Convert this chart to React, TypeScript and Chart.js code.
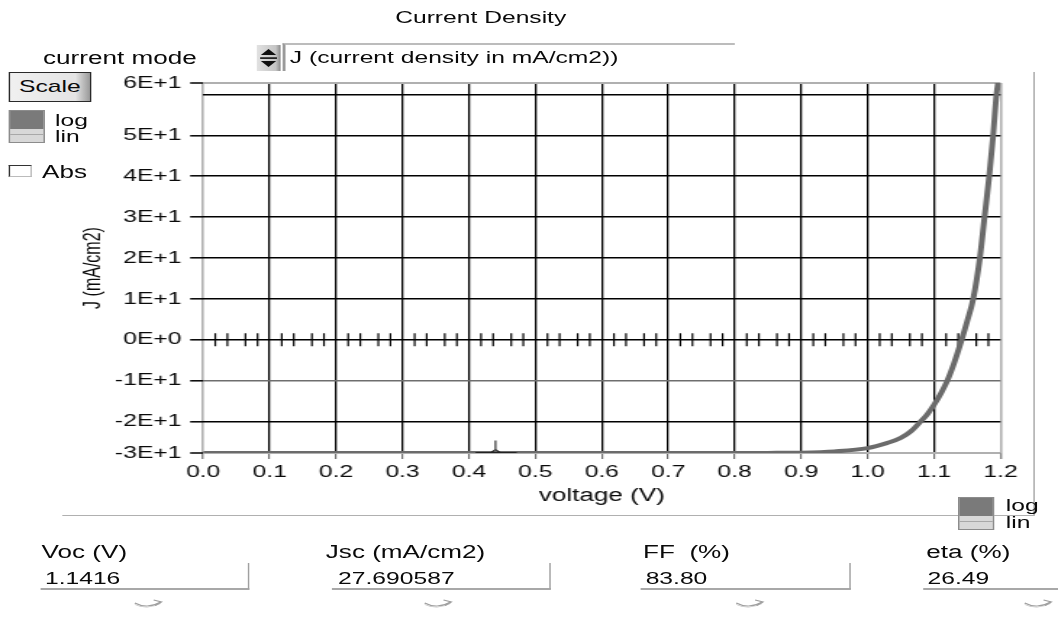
import React, { useEffect, useRef } from 'react';
import { Chart, registerables } from 'chart.js';

Chart.register(...registerables);

// ---- data ----
const voltage = [0, 0.1, 0.2, 0.3, 0.4, 0.5, 0.6, 0.7, 0.8, 0.85, 0.9, 0.95, 1.0, 1.03, 1.05, 1.065, 1.078, 1.09, 1.1, 1.11, 1.12, 1.13, 1.1416, 1.15, 1.159, 1.169, 1.176, 1.183, 1.189, 1.194, 1.2];
const currentDensity = [-27.69, -27.69, -27.69, -27.69, -27.69, -27.69, -27.69, -27.69, -27.68, -27.66, -27.6, -27.3, -26.5, -25.2, -24.0, -22.4, -20.3, -18.2, -15.9, -13.2, -10.0, -5.8, 0, 4.6, 10, 20, 30, 40, 50, 60, 66];
const xTickValues = [0, 0.1, 0.2, 0.3, 0.4, 0.5, 0.6, 0.7, 0.8, 0.9, 1.0, 1.1, 1.2];
const yMin = -27.69;
const yMax = 62.8;
const yTickValues = [yMin, -20, -10, 0, 10, 20, 30, 40, 50, 60, yMax];
const yUnlabeled = [60];
const minorOffsets = [0.0182, 0.0364, 0.0636, 0.0818];
const cursorVoltage = 0.44;
const cursorSpan = [0.41, 0.472];
const resultLabels = ['Voc (V)', 'Jsc (mA/cm2)', 'FF  (%)', 'eta (%)'];
const resultValues = ['1.1416', '27.690587', '83.80', '26.49'];

// ---- layout (unstretched coordinates; page is stretched horizontally) ----
const CW = 730;
const S = 1058 / CW;
const FONT = "'Liberation Sans', Arial, sans-serif";
const TXT = '#0a0a0a';

const overlayPlugin = {
  id: 'overlay',
  beforeDatasetsDraw(chart: any) {
    const { ctx, scales } = chart;
    const x = scales.x;
    const y = scales.y;
    const y0 = y.getPixelForValue(0);
    ctx.save();
    ctx.strokeStyle = '#000';
    ctx.lineWidth = 1.2;
    ctx.beginPath();
    for (let i = 0; i < xTickValues.length - 1; i++) {
      for (const off of minorOffsets) {
        const px = x.getPixelForValue(xTickValues[i] + off);
        ctx.moveTo(px, y0 - 6.5);
        ctx.lineTo(px, y0 + 6.5);
      }
    }
    ctx.stroke();
    ctx.restore();
  },
  afterDatasetsDraw(chart: any) {
    const { ctx, scales } = chart;
    const x = scales.x;
    const y = scales.y;
    const by = y.getPixelForValue(yMin) - 0.5;
    const cx = x.getPixelForValue(cursorVoltage);
    ctx.save();
    ctx.strokeStyle = '#222';
    ctx.lineWidth = 1.1;
    ctx.beginPath();
    ctx.moveTo(x.getPixelForValue(cursorSpan[0]), by);
    ctx.lineTo(x.getPixelForValue(cursorSpan[1]), by);
    ctx.moveTo(cx, by - 12);
    ctx.lineTo(cx, by - 3);
    ctx.moveTo(cx - 3, by);
    ctx.lineTo(cx, by - 3);
    ctx.lineTo(cx + 3, by);
    ctx.stroke();
    ctx.restore();
  },
};

function ToggleBox({ left, top }: { left: number; top: number }) {
  return (
    <div style={{ position: 'absolute', left, top, width: 25.5, height: 33, border: '1px solid #8c8c8c', boxSizing: 'border-box', background: '#d8d8d8' }}>
      <div style={{ position: 'absolute', left: 0, top: 0, right: 0, height: 18, background: '#7a7a7a' }} />
      <div style={{ position: 'absolute', left: 0, top: 23, right: 0, height: 1, background: '#a8a8a8' }} />
    </div>
  );
}

function Arrow({ left }: { left: number }) {
  return (
    <svg style={{ position: 'absolute', left, top: 597 }} width={21} height={11} viewBox="0 0 21 11">
      <path d="M1 6 C6 10 13 10 19 5" stroke="#a0a0a0" strokeWidth={1} fill="none" />
      <path d="M1 7.5 C6 11 13 11 19 6.5" stroke="#c8c8c8" strokeWidth={0.8} fill="none" />
      <path d="M14 3 L19.5 5 L15 8.5" stroke="#a0a0a0" strokeWidth={1} fill="none" />
    </svg>
  );
}

export default function App() {
  const ref = useRef<HTMLCanvasElement>(null);

  useEffect(() => {
    document.documentElement.style.overflow = 'hidden';
    const points = voltage.map((v, i) => ({ x: v, y: currentDensity[i] }));
    const chart = new Chart(ref.current as HTMLCanvasElement, {
      type: 'line',
      data: {
        datasets: [
          {
            data: points,
            borderColor: '#6b6b6b',
            borderWidth: 4,
            pointRadius: 0,
            cubicInterpolationMode: 'monotone',
            borderJoinStyle: 'round',
            clip: { left: 0, top: 0, right: 0, bottom: 0 },
          } as any,
        ],
      },
      options: {
        responsive: false,
        animation: false,
        devicePixelRatio: 1,
        layout: { padding: { left: 0, top: 83, right: CW - 690.3, bottom: 640 - 453 - 60 } },
        plugins: { legend: { display: false }, title: { display: false }, tooltip: { enabled: false } },
        scales: {
          x: {
            type: 'linear',
            min: 0,
            max: 1.2,
            afterBuildTicks: (s: any) => {
              s.ticks = xTickValues.map((value) => ({ value }));
            },
            afterFit: (s: any) => {
              s.height = 60;
            },
            border: { display: false },
            grid: {
              color: (c: any) => (c.index === 0 || c.index === xTickValues.length - 1 ? '#b0b0b0' : '#000'),
              lineWidth: (c: any) => (c.index === 0 || c.index === xTickValues.length - 1 ? 1.6 : 1.3),
              tickLength: 6,
              tickColor: '#555',
              tickWidth: 1,
            },
            ticks: {
              autoSkip: false,
              maxRotation: 0,
              padding: 3,
              color: TXT,
              font: { family: FONT, size: 17 },
              callback: (v: any) => Number(v).toFixed(1),
            },
            title: {
              display: true,
              text: 'voltage (V)',
              color: TXT,
              font: { family: FONT, size: 18 },
              padding: { top: 0, bottom: 6 },
            },
          },
          y: {
            type: 'linear',
            min: yMin,
            max: yMax,
            afterBuildTicks: (s: any) => {
              s.ticks = yTickValues.map((value) => ({ value }));
            },
            afterFit: (s: any) => {
              s.width = 140.2;
            },
            border: { display: false },
            grid: {
              color: (c: any) => {
                if (c.index === 0 || c.index === yTickValues.length - 1) return '#b0b0b0';
                if (c.tick && c.tick.value === -10) return '#6e6e6e';
                return '#000';
              },
              lineWidth: (c: any) => (c.index === 0 || c.index === yTickValues.length - 1 ? 2 : 1.6),
              tickLength: 9,
              tickColor: (c: any) => (c.tick && yUnlabeled.includes(c.tick.value) ? 'rgba(0,0,0,0)' : '#000'),
              tickWidth: 1.5,
            },
            ticks: {
              autoSkip: false,
              padding: 6,
              color: TXT,
              font: { family: FONT, size: 17 },
              callback: (v: any) => (yUnlabeled.includes(Number(v)) ? '' : Number(v).toExponential(0).toUpperCase()),
            },
            title: {
              display: true,
              text: 'J (mA/cm2)',
              color: TXT,
              font: { family: FONT, size: 16 },
              padding: { top: 54.5, bottom: 0 },
            },
          },
        },
      },
      plugins: [overlayPlugin],
    });
    return () => chart.destroy();
  }, []);

  const boxes = [
    { label: 28.7, box: 27.6, width: 144.8, value: 31, arrow: 91.7 },
    { label: 224.8, box: 229.4, width: 150.4, value: 233.3, arrow: 291.7 },
    { label: 443.7, box: 442, width: 145.4, value: 445.5, arrow: 506.9 },
    { label: 639.1, box: 637.2, width: 95, value: 640, arrow: 705.5 },
  ];

  return (
    <div
      style={{
        position: 'absolute',
        left: 0,
        top: 0,
        width: CW,
        height: 640,
        overflow: 'hidden',
        transform: `scaleX(${S})`,
        transformOrigin: '0 0',
        fontFamily: FONT,
        fontSize: 17,
        lineHeight: '20px',
        color: TXT,
        background: '#fff',
      }}
    >
      <canvas ref={ref} width={CW} height={640} style={{ position: 'absolute', left: 0, top: 0 }} />

      <div style={{ position: 'absolute', left: 331.7, top: 8, transform: 'translateX(-50%)', whiteSpace: 'nowrap' }}>Current Density</div>

      <div style={{ position: 'absolute', left: 29.7, top: 48, whiteSpace: 'nowrap', fontSize: 18 }}>current mode</div>
      <svg style={{ position: 'absolute', left: 177.2, top: 45 }} width={16.6} height={26} viewBox="0 0 16.6 26">
        <defs>
          <linearGradient id="spg" x1="0" x2="1" y1="0" y2="0">
            <stop offset="0" stopColor="#e2e2e2" />
            <stop offset="0.8" stopColor="#c4c4c4" />
            <stop offset="1" stopColor="#8a8a8a" />
          </linearGradient>
        </defs>
        <rect x={0} y={0} width={16.6} height={26} fill="url(#spg)" />
        <path d="M3 10 L8.3 4 L13.6 10 Z" fill="#111" />
        <path d="M3 16 L8.3 22 L13.6 16 Z" fill="#111" />
        <rect x={2.5} y={12.3} width={11.6} height={1.6} fill="#111" />
      </svg>
      <div
        style={{
          position: 'absolute',
          left: 194.5,
          top: 43,
          width: 312.4,
          height: 28,
          borderTop: '2px solid #bcbcbc',
          borderLeft: '2px solid #9a9a9a',
          boxSizing: 'border-box',
        }}
      >
        <div style={{ position: 'absolute', left: 3.5, top: 3, whiteSpace: 'nowrap' }}>J (current density in mA/cm2))</div>
      </div>

      <div
        style={{
          position: 'absolute',
          left: 5.7,
          top: 72,
          width: 57.5,
          height: 29.7,
          border: '1.5px solid #2a2a2a',
          boxSizing: 'border-box',
          background: 'linear-gradient(to right, #f0f0f0 0%, #e4e4e4 82%, #9a9a9a 100%)',
          textAlign: 'center',
          lineHeight: '28px',
        }}
      >
        Scale
      </div>

      <ToggleBox left={5.7} top={110} />
      <div style={{ position: 'absolute', left: 38, top: 113, lineHeight: '16px', fontSize: 17 }}>
        log
        <br />
        lin
      </div>

      <div
        style={{
          position: 'absolute',
          left: 5.7,
          top: 165,
          width: 16.1,
          height: 12,
          background: '#fff',
          borderTop: '1.5px solid #333',
          borderLeft: '1.5px solid #333',
          borderRight: '1px solid #bbb',
          borderBottom: '1px solid #bbb',
          boxSizing: 'border-box',
        }}
      />
      <div style={{ position: 'absolute', left: 29, top: 162, fontSize: 18 }}>Abs</div>

      <div style={{ position: 'absolute', left: 713.3, top: 72, width: 1, height: 443, background: '#a8a8a8' }} />
      <div style={{ position: 'absolute', left: 42.8, top: 514.5, width: 671, height: 1.5, background: '#b0b0b0' }} />

      <ToggleBox left={660.9} top={497} />
      <div style={{ position: 'absolute', left: 694, top: 497, lineHeight: '17px', fontSize: 17 }}>
        log
        <br />
        lin
      </div>

      {boxes.map((b, i) => (
        <React.Fragment key={i}>
          <div style={{ position: 'absolute', left: b.label, top: 542, whiteSpace: 'pre', fontSize: 18 }}>{resultLabels[i]}</div>
          <div
            style={{
              position: 'absolute',
              left: b.box,
              top: 563,
              width: b.width,
              height: 27,
              borderBottom: '2px solid #a8a8a8',
              borderRight: '1.2px solid #a0a0a0',
              boxSizing: 'border-box',
            }}
          />
          <div style={{ position: 'absolute', left: b.value, top: 569 }}>{resultValues[i]}</div>
          <Arrow left={b.arrow} />
        </React.Fragment>
      ))}
    </div>
  );
}
